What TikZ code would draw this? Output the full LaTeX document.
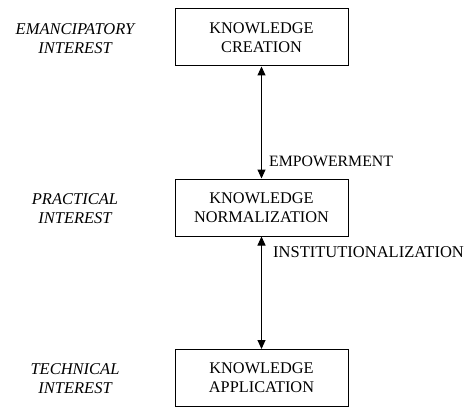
\documentclass[tikz,border=0pt]{standalone}
\usepackage{fontspec}
\setmainfont{Liberation Serif}
\usetikzlibrary{arrows.meta}
\begin{document}
\begin{tikzpicture}[x=1pt,y=-1pt,
  kbox/.style={draw,line width=1pt,minimum width=173pt,minimum height=57pt,align=center,inner sep=0pt,font=\fontsize{16.3}{19}\selectfont},
  interest/.style={align=center,inner sep=0pt,font=\fontsize{16.5}{19}\selectfont\itshape},
  rel/.style={anchor=west,inner sep=0pt,font=\fontsize{15.8}{19}\selectfont},
  conn/.style={line width=1pt,{Triangle[length=9pt,width=8pt]}-{Triangle[length=9pt,width=8pt]}}]
\useasboundingbox (0,0) rectangle (470,406);
\node[kbox] (create) at (261.5,37.5) {KNOWLEDGE\\CREATION};
\node[kbox] (norm) at (261.5,207.5) {KNOWLEDGE\\NORMALIZATION};
\node[kbox] (app) at (261.5,378) {KNOWLEDGE\\APPLICATION};
\node[interest] (emi) at (75,38.5) {EMANCIPATORY\\INTEREST};
\node[interest] (pri) at (75,208.5) {PRACTICAL\\INTEREST};
\node[interest] (tei) at (75,378.5) {TECHNICAL\\INTEREST};
\draw[conn] (create.south) -- (norm.north);
\draw[conn] (norm.south) -- (app.north);
\node[rel] (emp) at (269,161) {EMPOWERMENT};
\node[rel,font=\fontsize{16.5}{19}\selectfont] (inst) at (273,252) {INSTITUTIONALIZATION};
\end{tikzpicture}
\end{document}
